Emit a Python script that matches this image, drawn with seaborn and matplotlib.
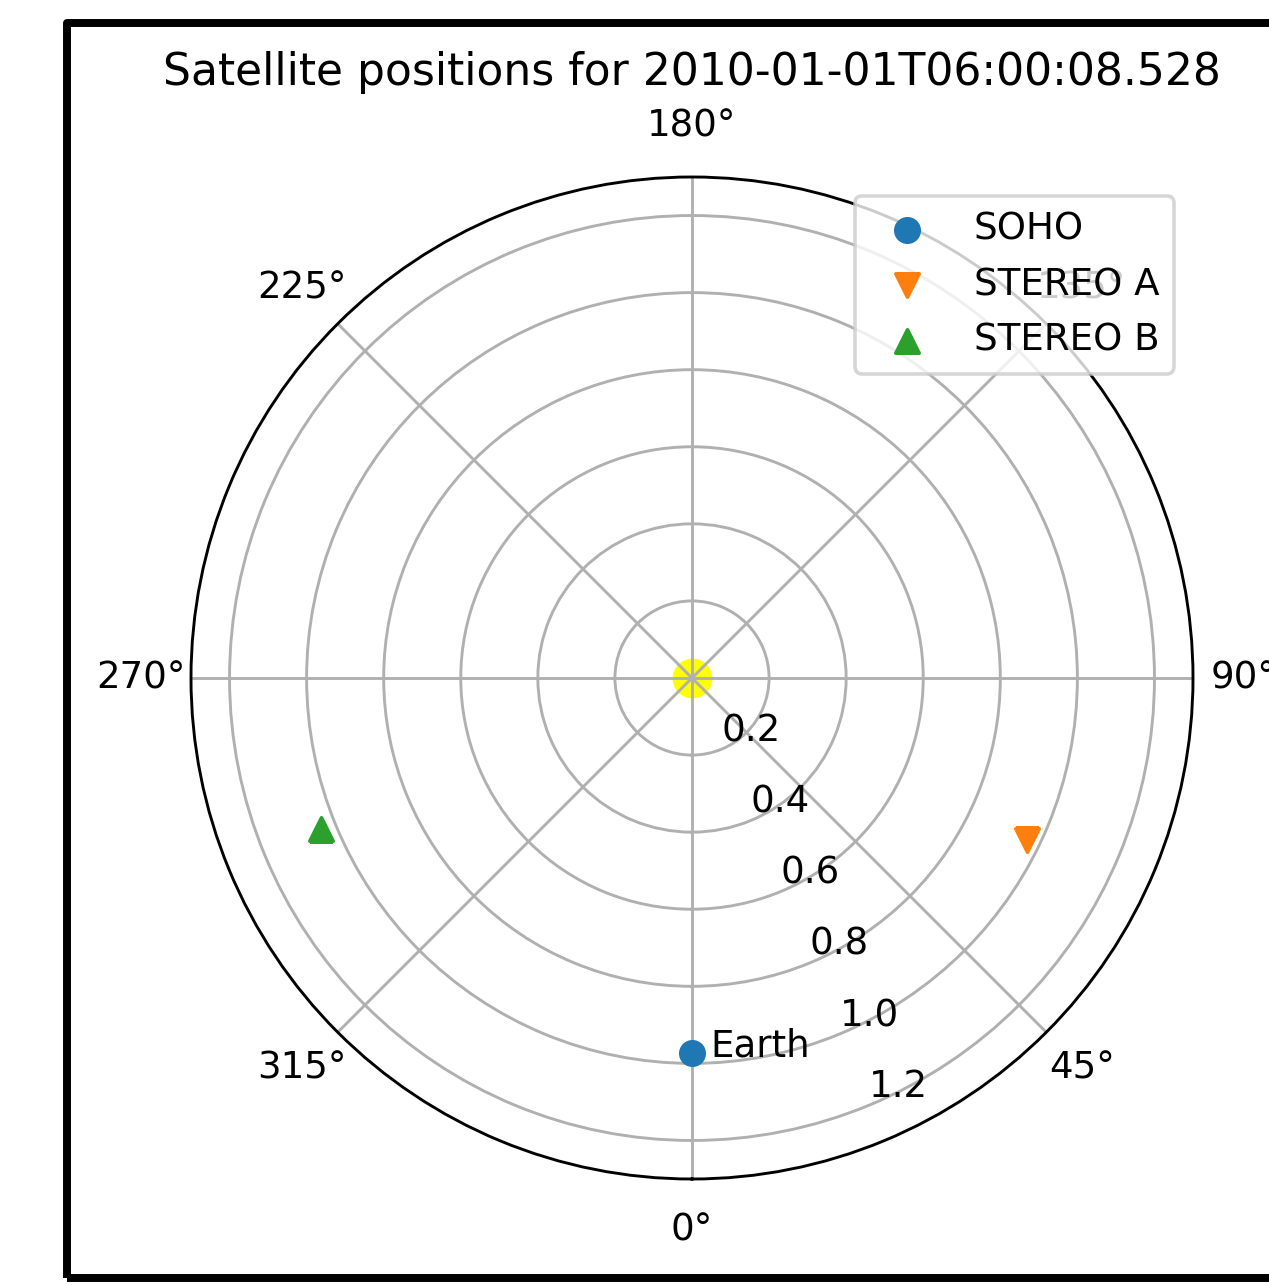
import numpy as np
import pandas as pd
import matplotlib
matplotlib.use("Agg")
import matplotlib.pyplot as plt
import seaborn as sns
from matplotlib.patches import Rectangle

# ===============================
# Data
# ===============================
sat_names = ["SOHO", "STEREO A", "STEREO B"]
sat_lon_deg = [0.0, 64.1, 292.1]      # heliocentric longitude relative to Earth
sat_dist_au = [0.972, 0.965, 1.039]   # distance from the Sun
sat_markers = ["o", "v", "^"]
sat_colors = ["#1f77b4", "#ff7f0e", "#2ca02c"]

sun_lon_deg = [0.0]
sun_dist_au = [0.0]

earth_label = "Earth"
r_ticks = [0.2, 0.4, 0.6, 0.8, 1.0, 1.2]
r_max = 1.3
title = "Satellite positions for 2010-01-01T06:00:08.528"

df = pd.DataFrame({
    "name": sat_names,
    "theta": np.deg2rad(sat_lon_deg),
    "r": sat_dist_au,
})

plt.rcParams["font.size"] = 10.3

# ===============================
# Figure
# ===============================
dpi = 260
fig = plt.figure(figsize=(1269 / dpi, 1287 / dpi), dpi=dpi)
ax = fig.add_axes([191 / 1269, 1 - 1179 / 1287, 1002 / 1269, 1002 / 1287],
                  projection="polar")
ax.set_theta_zero_location("S")
ax.set_theta_direction(1)

# the Sun, under the grid
sns.scatterplot(x=np.deg2rad(sun_lon_deg), y=sun_dist_au, ax=ax, s=100,
                color="yellow", edgecolor="yellow", linewidth=1, zorder=1,
                legend=False)

for i, row in df.iterrows():
    sns.scatterplot(x=[row["theta"]], y=[row["r"]], ax=ax, s=42,
                    marker=sat_markers[i], color=sat_colors[i],
                    edgecolor=sat_colors[i], linewidth=1, zorder=3,
                    label=row["name"])

ax.annotate(earth_label, xy=(df["theta"][0], df["r"][0]),
            xytext=(18.5, -4), textcoords="offset pixels",
            ha="left", va="baseline", fontsize=10.3)

ax.set_ylim(0, r_max)
ax.set_rticks(r_ticks)
ax.set_xlabel("")
ax.set_ylabel("")
ax.legend(loc="upper right", fontsize=10.3)

ax.set_title(title, y=(1179 - 85) / 1002, pad=0, va="baseline", fontsize=12.2)

# thick frame round the figure (right side runs off the picture)
frame = Rectangle((67 / 1269, (1287 - 1278) / 1287), 1.2, (1278 - 22.5) / 1287,
                  transform=fig.transFigure, fill=False, edgecolor="black",
                  linewidth=2.2, joinstyle="round", clip_on=False)
fig.patches.append(frame)

fig.savefig("out.png", dpi=dpi)
